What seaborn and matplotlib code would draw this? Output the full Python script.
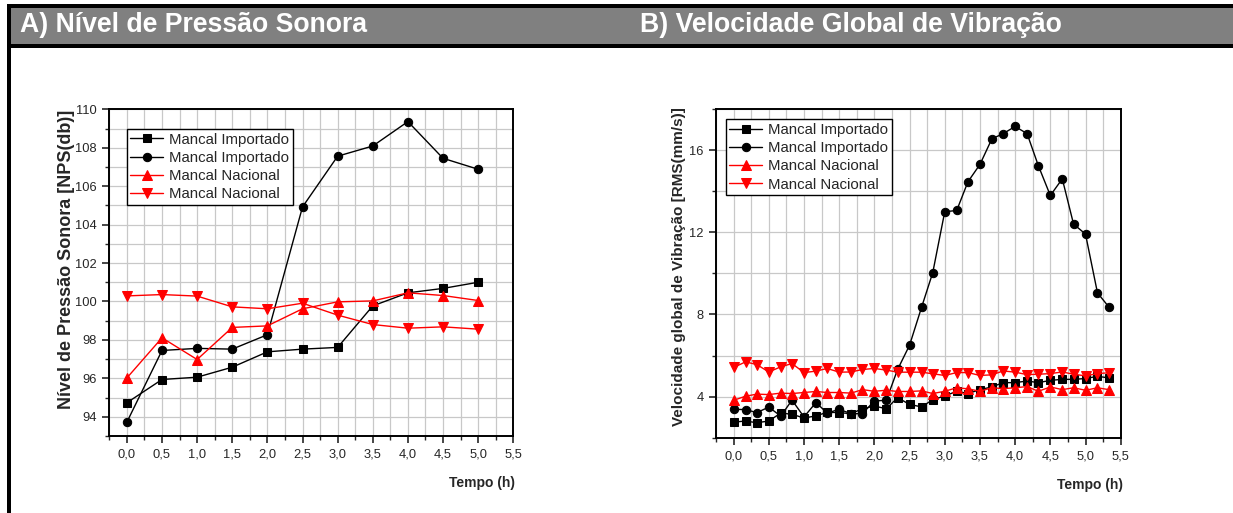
import numpy as np
import pandas as pd
import matplotlib
matplotlib.use("Agg")
import matplotlib.pyplot as plt
from matplotlib.patches import Rectangle
from matplotlib.ticker import MultipleLocator, FuncFormatter
import seaborn as sns

sns.set_style("ticks")
plt.rcParams["font.family"] = ["Liberation Sans", "DejaVu Sans"]

# A) nivel de pressao sonora
tempo_a = [0.0, 0.5, 1.0, 1.5, 2.0, 2.5, 3.0, 3.5, 4.0, 4.5, 5.0]
nps_imp1 = [94.73, 95.94, 96.06, 96.58, 97.38, 97.52, 97.61, 99.77, 100.45, 100.68, 101.0]
nps_imp2 = [93.72, 97.45, 97.56, 97.52, 98.27, 104.92, 107.56, 108.09, 109.36, 107.45, 106.88]
nps_nac1 = [96.02, 98.11, 96.98, 98.65, 98.73, 99.62, 99.98, 100.03, 100.45, 100.31, 100.05]
nps_nac2 = [100.29, 100.36, 100.28, 99.72, 99.62, 99.91, 99.29, 98.80, 98.61, 98.68, 98.56]

# B) velocidade global de vibracao
tempo_b = [0.0, 0.17, 0.33, 0.5, 0.67, 0.83, 1.0, 1.17, 1.33, 1.5, 1.67,
           1.83, 2.0, 2.17, 2.33, 2.5, 2.67, 2.83, 3.0, 3.17, 3.33, 3.5,
           3.67, 3.83, 4.0, 4.17, 4.33, 4.5, 4.67, 4.83, 5.0, 5.17, 5.33]
rms_imp1 = [2.76, 2.81, 2.73, 2.81, 3.2, 3.14, 2.96, 3.06, 3.24, 3.22, 3.17,
            3.41, 3.54, 3.41, 3.95, 3.62, 3.5, 3.85, 4.03, 4.26, 4.15, 4.34,
            4.47, 4.68, 4.68, 4.76, 4.68, 4.79, 4.84, 4.84, 4.88, 4.99, 4.91]
rms_imp2 = [3.38, 3.37, 3.22, 3.49, 3.05, 3.83, 3.01, 3.71, 3.2, 3.38, 3.17,
            3.17, 3.79, 3.82, 5.32, 6.5, 8.34, 10.04, 13.0, 13.06, 14.46, 15.3,
            16.55, 16.8, 17.15, 16.8, 15.24, 13.79, 14.6, 12.4, 11.91, 9.05, 8.37]
rms_nac1 = [3.82, 4.02, 4.12, 4.1, 4.17, 4.15, 4.2, 4.25, 4.2, 4.2, 4.17,
            4.34, 4.26, 4.31, 4.25, 4.25, 4.28, 4.15, 4.26, 4.43, 4.38, 4.26,
            4.43, 4.39, 4.43, 4.49, 4.26, 4.47, 4.34, 4.43, 4.31, 4.43, 4.34]
rms_nac2 = [5.42, 5.69, 5.56, 5.2, 5.45, 5.61, 5.17, 5.24, 5.37, 5.19, 5.2,
            5.32, 5.37, 5.29, 5.19, 5.19, 5.19, 5.11, 5.03, 5.17, 5.17, 5.03,
            5.06, 5.25, 5.19, 5.07, 5.09, 5.12, 5.2, 5.09, 5.01, 5.12, 5.16]

rotulos = ["Mancal Importado", "Mancal Importado", "Mancal Nacional", "Mancal Nacional"]
cores = ["black", "black", "red", "red"]
marcadores = ["s", "o", "^", "v"]
tamanhos = [5.5, 6, 7, 7]

fig = plt.figure(figsize=(12.33, 5.13), dpi=100)

# cabecalho cinza com bordas pretas
H = 513.0
W = 1233.0
fig.patches.append(Rectangle((11 / W, 1 - 44 / H), 1, 36 / H, transform=fig.transFigure,
                             facecolor="#808080", edgecolor="none", zorder=0))
fig.patches.append(Rectangle((7 / W, 1 - 8 / H), 1, 4 / H, transform=fig.transFigure,
                             facecolor="black", edgecolor="none", zorder=1))
fig.patches.append(Rectangle((7 / W, 1 - 48 / H), 1, 4 / H, transform=fig.transFigure,
                             facecolor="black", edgecolor="none", zorder=1))
fig.patches.append(Rectangle((7 / W, 0), 4 / W, 1 - 4 / H, transform=fig.transFigure,
                             facecolor="black", edgecolor="none", zorder=1))
fig.text(20 / W, 1 - 25 / H, "A) Nível de Pressão Sonora", color="white",
         fontsize=19.2, fontweight="bold", va="center", ha="left")
fig.text(640 / W, 1 - 25 / H, "B) Velocidade Global de Vibração", color="white",
         fontsize=19.2, fontweight="bold", va="center", ha="left")

ax_a = fig.add_axes([109.3 / W, 1 - 436 / H, 404 / W, 326.7 / H])
ax_b = fig.add_axes([716 / W, 1 - 437.7 / H, 404.7 / W, 328.7 / H])

series_a = [nps_imp1, nps_imp2, nps_nac1, nps_nac2]
series_b = [rms_imp1, rms_imp2, rms_nac1, rms_nac2]

for ax, tempo, series in [(ax_a, tempo_a, series_a), (ax_b, tempo_b, series_b)]:
    for vals, lab, cor, mk, ms in zip(series, rotulos, cores, marcadores, tamanhos):
        sns.lineplot(x=tempo, y=vals, ax=ax, color=cor, marker=mk, markersize=ms,
                     markeredgecolor=cor, markerfacecolor=cor, linewidth=1,
                     label=lab, zorder=3)

virgula = FuncFormatter(lambda v, p: f"{v:.1f}".replace(".", ","))

def estilo(ax, ymin, ymax, ymaj, ymin_step, ylabel, ysize, lab_x, lab_y):
    ax.set_xlim(-0.25, 5.5)
    ax.set_ylim(ymin, ymax)
    ax.xaxis.set_major_locator(MultipleLocator(0.5))
    ax.xaxis.set_minor_locator(MultipleLocator(0.25))
    ax.xaxis.set_major_formatter(virgula)
    ax.yaxis.set_major_locator(MultipleLocator(ymaj))
    ax.yaxis.set_minor_locator(MultipleLocator(ymin_step))
    ax.grid(True, which="both", color="#c8c8c8", linewidth=0.9, zorder=0)
    ax.set_axisbelow(True)
    ax.tick_params(which="major", direction="out", length=5, width=1.2, labelsize=9.3, pad=4)
    ax.tick_params(which="minor", direction="out", length=3, width=1.0)
    for s in ax.spines.values():
        s.set_color("black")
        s.set_linewidth(1.4)
    ax.set_xlabel("")
    ax.set_ylabel(ylabel, fontsize=ysize, fontweight="bold")
    ax.yaxis.set_label_coords(lab_x, lab_y)
    ax.text(1.005, -0.145, "Tempo (h)", transform=ax.transAxes, ha="right", va="center",
            fontsize=10, fontweight="bold")

estilo(ax_a, 93, 110, 2, 1, "Nível de Pressão Sonora [NPS(db)]", 13, -0.085, 0.54)
estilo(ax_b, 2, 18, 4, 2, "Velocidade global de Vibração [RMS(mm/s)]", 11, -0.074, 0.52)

ax_a.legend(loc="upper left", bbox_to_anchor=(0.043, 0.94), fontsize=10.8,
            frameon=True, fancybox=False, edgecolor="black", framealpha=1,
            handlelength=2.2, labelspacing=0.28, borderpad=0.25, handletextpad=0.4,
            borderaxespad=0)
ax_b.legend(loc="upper left", bbox_to_anchor=(0.024, 0.969), fontsize=10.8,
            frameon=True, fancybox=False, edgecolor="black", framealpha=1,
            handlelength=2.2, labelspacing=0.28, borderpad=0.25, handletextpad=0.4,
            borderaxespad=0)
for ax in (ax_a, ax_b):
    ax.get_legend().get_frame().set_linewidth(1.0)

fig.savefig("out.png", dpi=100)
